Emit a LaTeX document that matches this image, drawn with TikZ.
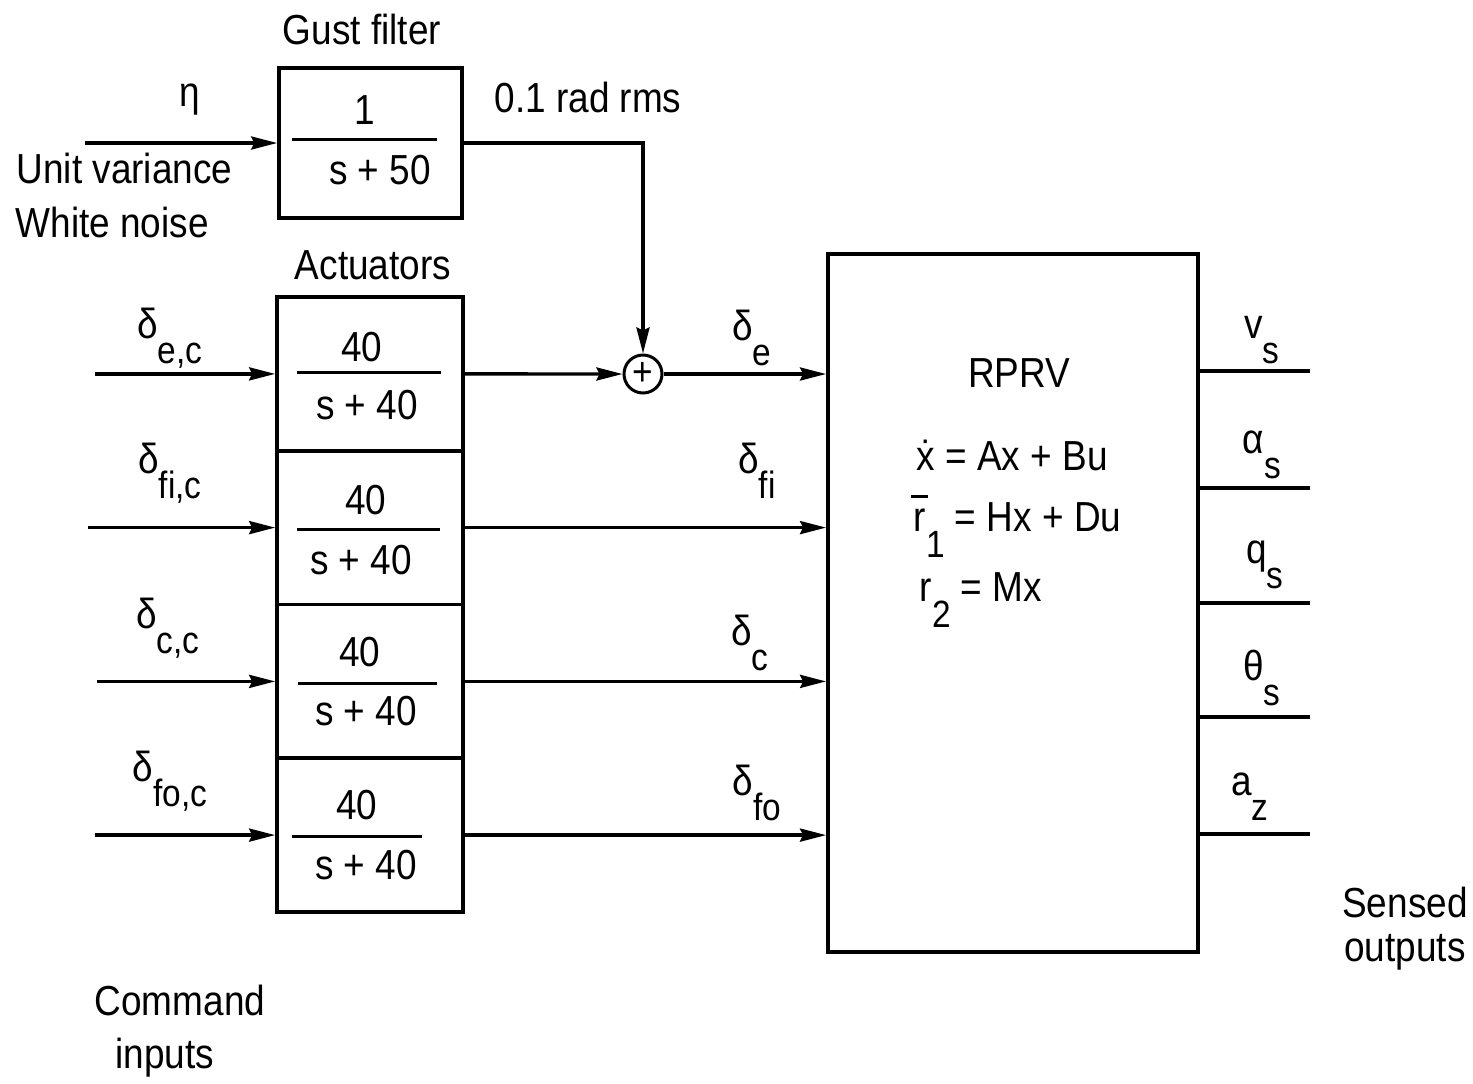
\documentclass[tikz,border=0pt]{standalone}
\usepackage{fontspec}
\setmainfont{Liberation Sans}[FakeStretch=0.88]
\usetikzlibrary{arrows.meta}
\newcommand\lo[1]{\raisebox{-0.6em}{\fontsize{19}{19}\selectfont #1}}
\newcommand\rbar{\ooalign{r\cr\hidewidth\raisebox{0.8em}{\rule{0.4em}{0.07em}}\hidewidth\cr}}
\begin{document}
\begin{tikzpicture}[x=0.5pt,y=-0.5pt, line width=1.7pt,
  every node/.style={font=\fontsize{21}{24}\selectfont, inner sep=0pt},
  blk/.style={draw, line width=1.8pt, minimum width=93pt, minimum height=76.875pt},
  arr/.style={-{Stealth[length=13pt,width=6.5pt,inset=1.5pt]}},
  frac/.style={line width=1.5pt}]
\useasboundingbox (0,0) rectangle (1473,1083);

% blocks
\node[blk, minimum width=91.5pt, minimum height=75pt] (gust) at (370.5,143) {};
\node[blk] (act1) at (370,373.9) {};
\node[blk] (act2) at (370,527.6) {};
\node[blk] (act3) at (370,681.4) {};
\node[blk] (act4) at (370,835.1) {};
\node[draw, line width=1.9pt, minimum width=185pt, minimum height=349pt] (plant) at (1013,603) {};
\node[draw, circle, line width=1.5pt, minimum size=19pt, font=\fontsize{20}{20}\selectfont] (sum) at (643,374) {+};

% titles
\node (tg) at (362,29) {Gust filter};
\node (ta) at (373,265) {Actuators};

% gust filter fraction
\node (gn) at (365,110) {1};
\draw[frac] (292,139) -- (437,139);
\node (gd) at (380,170) {s + 50};

% actuator fractions
\node (n1) at (362,347) {40};
\draw[frac] (297,372) -- (441,372);
\node (d1) at (367,405) {s + 40};
\node (n2) at (366,500) {40};
\draw[frac] (297,529) -- (440,529);
\node (d2) at (361,560) {s + 40};
\node (n3) at (360,652) {40};
\draw[frac] (298,683) -- (437,683);
\node (d3) at (366,711) {s + 40};
\node (n4) at (357,805) {40};
\draw[frac] (292,836) -- (422,836);
\node (d4) at (366,865) {s + 40};

% inputs
\coordinate (i0) at (85,143);
\coordinate (i1) at (95,373.9);
\coordinate (i2) at (88,527.6);
\coordinate (i3) at (97,681.4);
\coordinate (i4) at (95,835.1);
\draw[arr] (i0) -- (gust.west);
\draw[arr] (i1) -- (act1.west);
\draw[arr] (i2) -- (act2.west);
\draw[arr] (i3) -- (act3.west);
\draw[arr] (i4) -- (act4.west);

\node (eta) at (190,100) {η};
\node[anchor=west] (uv) at (15,168) {Unit variance};
\node[anchor=west] (wn) at (14,222) {White noise};
\node (rms) at (588,97) {0.1 rad rms};

\node (lec) at (170,338) {δ\lo{e,c}};
\node (lfic) at (170,473) {δ\lo{fi,c}};
\node (lcc) at (168,628) {δ\lo{c,c}};
\node (lfoc) at (170,781) {δ\lo{fo,c}};

% connections
\draw[arr] (gust.east) -| (sum.north);
\draw[arr] (act1.east) -- (sum.west);
\draw[arr] (sum.east) -- (sum.east -| plant.west);
\draw[arr] (act2.east) -- (act2.east -| plant.west);
\draw[arr] (act3.east) -- (act3.east -| plant.west);
\draw[arr] (act4.east) -- (act4.east -| plant.west);

\node (le) at (752,338) {δ\lo{e}};
\node (lfi) at (757,471) {δ\lo{fi}};
\node (lc) at (750,643) {δ\lo{c}};
\node (lfo) at (757,793) {δ\lo{fo}};

% plant text
\node (rprv) at (1019,373) {RPRV};
\node[anchor=west] (eq1) at (915,455) {\.{x} = Ax + Bu};
\node[anchor=west] (eq2) at (912,530) {\rbar\lo{1} = Hx + Du};
\node[anchor=west] (eq3) at (918,600) {r\lo{2} = Mx};

% outputs
\coordinate (o1) at (1310,371);
\coordinate (o2) at (1310,488);
\coordinate (o3) at (1310,603);
\coordinate (o4) at (1310,717);
\coordinate (o5) at (1310,834);
\draw (o1 -| plant.east) -- (o1);
\draw (o2 -| plant.east) -- (o2);
\draw (o3 -| plant.east) -- (o3);
\draw (o4 -| plant.east) -- (o4);
\draw (o5 -| plant.east) -- (o5);

\node (vs) at (1262,340) {v\lo{s}};
\node (as) at (1262,455) {α\lo{s}};
\node (qs) at (1265,565) {q\lo{s}};
\node (ts) at (1262,678) {θ\lo{s}};
\node (az) at (1250,797) {a\lo{z}};

\node (so1) at (1405,902) {Sensed};
\node (so2) at (1405,952) {outputs};
\node (ci1) at (180,1000) {Command};
\node (ci2) at (165,1058) {inputs};
\end{tikzpicture}
\end{document}
